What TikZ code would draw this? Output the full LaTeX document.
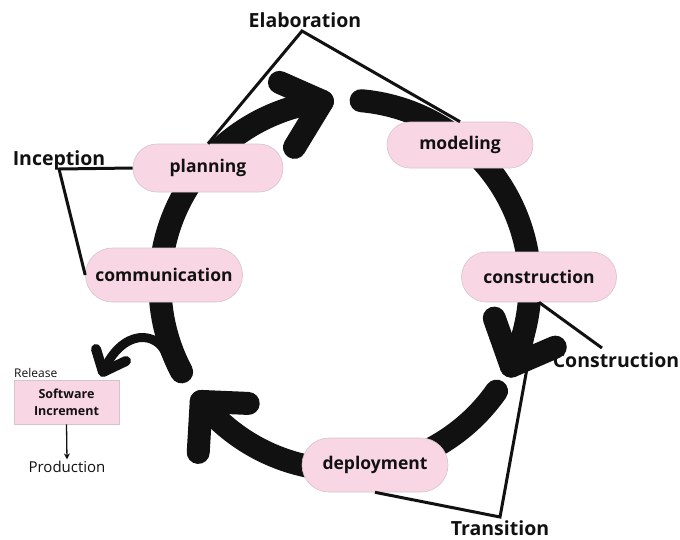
\documentclass[tikz,border=0pt]{standalone}
\usepackage{fontspec}
\setmainfont{Open Sans}
\usetikzlibrary{calc,arrows.meta,shapes.misc}
\definecolor{phasepink}{RGB}{249,214,228}
\definecolor{phaseedge}{RGB}{214,196,204}
\definecolor{ink}{RGB}{17,17,17}
\begin{document}
\begin{tikzpicture}[x=1pt,y=-1pt,
  cycle/.style={line width=23pt, draw=ink, line cap=round, line join=round},
  bracket/.style={line width=3pt, draw=ink, line join=miter},
  phase/.style={rounded rectangle, draw=phaseedge, line width=0.6pt, fill=phasepink,
    inner sep=0pt, text=ink, font=\fontsize{17.5}{20}\selectfont\bfseries},
  stage/.style={inner sep=0pt, text=ink, font=\fontsize{19.5}{22}\selectfont\bfseries},
  note/.style={inner sep=0pt, text=ink}]
\useasboundingbox (0,0) rectangle (680,539);

% the iterative cycle: three thick arcs with chevron heads
\coordinate (C) at (345,285);
\draw[cycle] ($(C)+(152:185)$) arc[start angle=152, end angle=263, radius=185] coordinate (tipA);
\draw[cycle] ($(tipA)+(-43,-19)$) -- (tipA) -- ($(tipA)+(-28,46)$);
\draw[cycle] ($(C)+(275:185)$) arc[start angle=275, end angle=386, radius=185] coordinate (tipB);
\draw[cycle] ($(tipB)+(-17,-48)$) -- (tipB) -- ($(tipB)+(44,-19)$);
\draw[cycle] ($(C)+(35:185)$) arc[start angle=35, end angle=141, radius=185] coordinate (tipC);
\draw[cycle] ($(tipC)+(47,2)$) -- (tipC) -- ($(tipC)+(-3,51)$);

% release arrow leaving the cycle
\coordinate (relStart) at (167,356);
\coordinate (relTip) at (103,372);
\draw[line width=9pt, draw=ink, line cap=round] (relStart) .. controls (158,330) and (122,328) .. (relTip);
\draw[line width=10pt, draw=ink, line cap=round, line join=round]
  ($(relTip)+(-7,-23)$) -- (relTip) -- ($(relTip)+(23,-11)$);

% phases
\node[phase, minimum width=150pt, minimum height=48pt] (planning) at (208,168) {planning};
\node[phase, minimum width=157pt, minimum height=54pt] (communication) at (164,275) {communication};
\node[phase, minimum width=146pt, minimum height=46pt] (modeling) at (460,145) {modeling};
\node[phase, minimum width=155pt, minimum height=50pt] (construction) at (539,277) {construction};
\node[phase, minimum width=146pt, minimum height=54pt] (deployment) at (375,465) {deployment};

% stage labels
\node[stage, anchor=base] (elaboration) at (305,27.5) {Elaboration};
\node[stage, anchor=base] (inception) at (59,165) {Inception};
\node[stage, anchor=base] (constructionLbl) at (616,367) {Construction};
\node[stage, anchor=base] (transition) at (500,535) {Transition};

% brackets grouping phases into stages
\coordinate (elabV) at (302,31);
\coordinate (incV) at (59,169);
\coordinate (conV) at (602,348);
\coordinate (tranV) at (500,517);
\draw[bracket] (planning.north) -- (elabV) -- (modeling.north);
\draw[bracket] (planning.west) -- (incV) -- (communication.west);
\draw[bracket] (construction.south) -- (conV);
\draw[bracket] (deployment.south) -- (tranV) -- (construction.south);

% release box
\node[note, anchor=base west, font=\fontsize{12}{14}\selectfont] (release) at (14,377.5) {Release};
\node[rectangle, draw=phaseedge, line width=0.6pt, fill=phasepink, minimum width=105pt,
  minimum height=44pt, inner sep=0pt, align=center, text=ink,
  font=\fontsize{12.5}{17}\selectfont\bfseries] (sw) at (66.5,402) {Software\\Increment};
\node[note, anchor=base, font=\fontsize{15}{18}\selectfont] (prod) at (67,472) {Production};
\draw[line width=1.3pt, draw=ink, -{Stealth[length=6pt,width=6pt]}, shorten >=1pt] (sw.south) -- (prod.north);
\end{tikzpicture}
\end{document}
